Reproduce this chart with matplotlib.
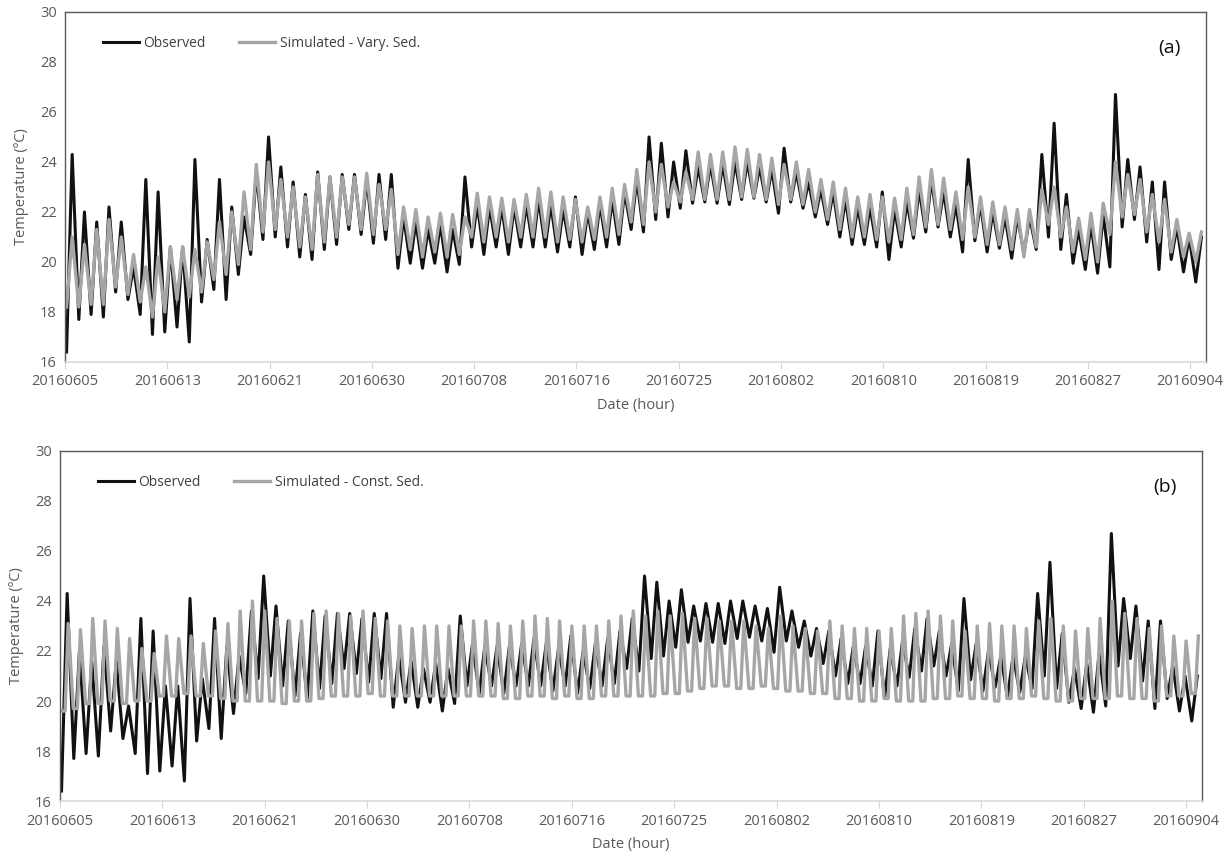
import numpy as np
import matplotlib
matplotlib.use('Agg')
import matplotlib.pyplot as plt

plt.rcParams['font.family'] = ['Open Sans', 'DejaVu Sans']

# daily trough / peak readings (deg C), one value per day starting 2016-06-05
obs_low = [16.4, 17.7, 17.9, 17.8, 18.8, 18.5, 17.9, 17.1, 17.2, 17.4,
           16.8, 18.4, 18.9, 18.5, 19.5, 20.3, 20.9, 21.0, 20.6, 20.2,
           20.1, 20.5, 20.7, 21.3, 21.1, 20.75, 20.9, 19.75, 19.95, 19.75,
           19.95, 19.6, 19.9, 20.6, 20.3, 20.6, 20.3, 20.6, 20.6, 20.6,
           20.4, 20.6, 20.3, 20.5, 20.6, 20.7, 21.3, 21.2, 21.7, 21.8,
           22.15, 22.35, 22.4, 22.35, 22.3, 22.5, 22.55, 22.4, 21.95, 22.4,
           22.15, 21.8, 21.5, 21.0, 20.7, 20.7, 20.6, 20.1, 20.6, 20.95,
           21.2, 21.4, 21.0, 20.4, 20.85, 20.4, 20.55, 20.15, 20.35, 20.5,
           21.0, 20.5, 19.95, 19.7, 19.55, 19.8, 21.4, 21.7, 20.8, 19.7,
           20.1, 19.6, 19.2]
obs_high = [24.3, 22.0, 21.6, 22.2, 21.6, 19.8, 23.3, 22.8, 20.6, 20.6,
            24.1, 20.9, 23.3, 22.2, 21.8, 23.6, 25.0, 23.8, 23.2, 22.7,
            23.6, 23.4, 23.5, 23.5, 23.3, 23.5, 23.5, 21.8, 21.6, 21.3,
            21.5, 21.3, 23.4, 22.3, 22.2, 22.2, 22.2, 22.3, 22.5, 22.3,
            22.1, 22.6, 22.0, 22.3, 22.5, 22.8, 23.3, 25.0, 24.75, 24.0,
            24.45, 23.8, 23.9, 23.9, 24.0, 24.0, 23.8, 23.7, 24.55, 23.6,
            23.2, 22.9, 22.8, 22.5, 22.2, 22.2, 22.8, 22.1, 22.4, 22.9,
            23.3, 22.8, 22.3, 24.1, 22.3, 22.0, 21.8, 21.8, 21.8, 24.3,
            25.55, 22.7, 21.3, 21.5, 21.9, 26.7, 24.1, 23.8, 23.2, 23.2,
            21.4, 21.0, 21.0]

vary_low = [18.2, 18.2, 18.3, 18.3, 19.0, 18.7, 18.4, 17.8, 18.0, 18.5,
            18.6, 18.8, 19.3, 19.5, 19.9, 20.5, 21.2, 21.3, 21.0, 20.6,
            20.5, 20.8, 21.0, 21.5, 21.3, 21.1, 21.3, 20.3, 20.5, 20.2,
            20.4, 20.2, 20.3, 21.0, 20.8, 21.0, 20.8, 21.0, 21.0, 21.0,
            20.8, 20.9, 20.8, 20.9, 21.0, 21.1, 21.6, 21.5, 22.0, 22.2,
            22.4, 22.5, 22.5, 22.5, 22.5, 22.6, 22.6, 22.5, 22.3, 22.5,
            22.3, 22.0, 21.7, 21.3, 21.0, 21.0, 20.9, 20.8, 20.9, 21.1,
            21.4, 21.5, 21.3, 20.9, 21.0, 20.7, 20.7, 20.5, 20.2, 20.6,
            21.5, 21.0, 20.4, 20.1, 20.0, 21.1, 21.8, 21.9, 21.2, 20.8,
            20.4, 20.2, 20.0]
vary_high = [21.0, 20.7, 21.3, 21.7, 21.0, 20.3, 19.8, 20.2, 20.6, 20.6,
             20.5, 20.8, 21.6, 22.0, 22.8, 23.9, 24.0, 23.3, 23.0, 22.6,
             23.5, 23.4, 23.4, 23.4, 23.55, 23.1, 22.9, 22.2, 22.1, 21.8,
             21.95, 21.9, 21.8, 22.75, 22.6, 22.55, 22.5, 22.7, 22.95, 22.8,
             22.6, 22.5, 22.2, 22.6, 22.95, 23.1, 23.7, 24.0, 23.9, 23.2,
             23.6, 24.4, 24.3, 24.4, 24.6, 24.5, 24.3, 24.15, 23.9, 24.0,
             23.7, 23.3, 23.2, 22.95, 22.6, 22.7, 22.6, 22.55, 22.95, 23.4,
             23.7, 23.35, 22.8, 23.0, 22.6, 22.4, 22.2, 22.1, 22.1, 22.9,
             23.0, 22.2, 21.75, 21.95, 22.35, 24.0, 23.5, 23.3, 22.7, 22.5,
             21.7, 21.15, 21.2]

const_low = [19.6, 19.7, 19.9, 19.9, 20.0, 19.9, 20.0, 20.0, 20.2, 20.2,
             20.3, 20.2, 20.2, 20.1, 20.0, 20.0, 20.0, 20.0, 19.9, 20.0,
             20.0, 20.1, 20.2, 20.2, 20.2, 20.3, 20.2, 20.2, 20.2, 20.2,
             20.2, 20.2, 20.2, 20.2, 20.2, 20.2, 20.1, 20.1, 20.2, 20.2,
             20.1, 20.2, 20.1, 20.1, 20.2, 20.2, 20.2, 20.2, 20.2, 20.3,
             20.3, 20.4, 20.5, 20.6, 20.6, 20.5, 20.5, 20.6, 20.5, 20.4,
             20.4, 20.3, 20.3, 20.1, 20.1, 20.0, 20.0, 20.1, 20.0, 20.0,
             20.0, 20.1, 20.1, 20.2, 20.1, 20.1, 20.0, 20.1, 20.1, 20.2,
             20.1, 20.0, 20.0, 20.1, 20.1, 20.1, 20.2, 20.1, 20.1, 20.0,
             20.2, 20.2, 20.3]
const_high = [23.1, 22.85, 23.3, 23.2, 22.9, 22.5, 22.1, 21.9, 22.6, 22.5,
              22.6, 22.3, 22.8, 23.1, 23.6, 24.0, 23.6, 23.3, 23.2, 23.2,
              23.5, 23.6, 23.5, 23.4, 23.6, 23.3, 23.2, 23.0, 22.9, 23.0,
              23.0, 23.0, 23.0, 23.2, 23.2, 23.1, 23.0, 23.2, 23.4, 23.3,
              23.2, 23.0, 23.0, 23.0, 23.2, 23.4, 23.6, 23.4, 23.6, 23.4,
              23.5, 23.3, 23.3, 23.2, 23.2, 23.2, 23.0, 22.9, 23.4, 23.0,
              22.9, 22.8, 23.2, 23.0, 22.9, 22.9, 22.8, 22.9, 23.4, 23.5,
              23.6, 23.4, 23.2, 22.8, 23.0, 23.1, 23.0, 23.0, 22.9, 23.2,
              23.3, 23.0, 22.8, 22.9, 23.3, 24.0, 23.5, 23.3, 22.9, 23.0,
              22.6, 22.4, 22.6]

tick_hours = [0, 200, 400, 600, 800, 1000, 1200, 1400, 1600, 1800, 2000, 2200]
tick_labels = ['20160605', '20160613', '20160621', '20160630', '20160708',
               '20160716', '20160725', '20160802', '20160810', '20160819',
               '20160827', '20160904']


def daily_series(low, high, flat_bottom=False):
    # trough early in the morning, peak in the afternoon;
    # the constant-sediment run sits at its trough for most of the night
    hours, vals = [], []
    for d in range(len(low)):
        if flat_bottom:
            hours += [24 * d + 2, 24 * d + 10, 24 * d + 16]
            vals += [low[d], low[d], high[d]]
        else:
            hours += [24 * d + 3, 24 * d + 14]
            vals += [low[d], high[d]]
    return np.array(hours), np.array(vals)


def style_axes(ax, tag):
    ax.set_xlim(0, 2231)
    ax.set_ylim(16, 30)
    ax.set_yticks(range(16, 31, 2))
    ax.set_xticks(tick_hours)
    ax.set_xticklabels(tick_labels)
    ax.tick_params(axis='y', length=0, labelsize=10.5, labelcolor='#595959', pad=6)
    ax.tick_params(axis='x', length=5, color='#d9d9d9', labelsize=10.5,
                   labelcolor='#595959', pad=4)
    for s in ['left', 'top', 'right']:
        ax.spines[s].set_color('#595959')
        ax.spines[s].set_linewidth(1.0)
    ax.spines['bottom'].set_color('#d9d9d9')
    ax.spines['bottom'].set_linewidth(1.2)
    ax.set_xlabel('Date (hour)', fontsize=10.5, color='#595959', labelpad=6)
    ax.set_ylabel('Temperature (ºC)', fontsize=10.5, color='#595959', labelpad=8)
    ax.text(0.968, 0.897, tag, transform=ax.transAxes, fontsize=14,
            ha='center', va='center', color='#111111')
    ax.legend(loc='upper left', bbox_to_anchor=(0.022, 0.968), ncol=2,
              frameon=False, fontsize=10, handlelength=2.6, handletextpad=0.35,
              columnspacing=2.4, labelcolor='#404040')


fig = plt.figure(figsize=(12.29, 8.59), dpi=100)
ax_a = fig.add_axes([0.0529, 0.5786, 0.9284, 0.4075])
ax_b = fig.add_axes([0.0488, 0.0675, 0.9292, 0.4075])

h_obs, v_obs = daily_series(obs_low, obs_high)
h_var, v_var = daily_series(vary_low, vary_high)
h_con, v_con = daily_series(const_low, const_high, flat_bottom=True)

ax_a.plot(h_obs, v_obs, color='#111111', lw=2.2, label='Observed')
ax_a.plot(h_var, v_var, color='#a6a6a6', lw=2.4, label='Simulated - Vary. Sed.')
style_axes(ax_a, '(a)')

ax_b.plot(h_obs, v_obs, color='#111111', lw=2.2, label='Observed')
ax_b.plot(h_con, v_con, color='#a6a6a6', lw=2.4, label='Simulated - Const. Sed.')
style_axes(ax_b, '(b)')

fig.savefig('out.png', dpi=100)
